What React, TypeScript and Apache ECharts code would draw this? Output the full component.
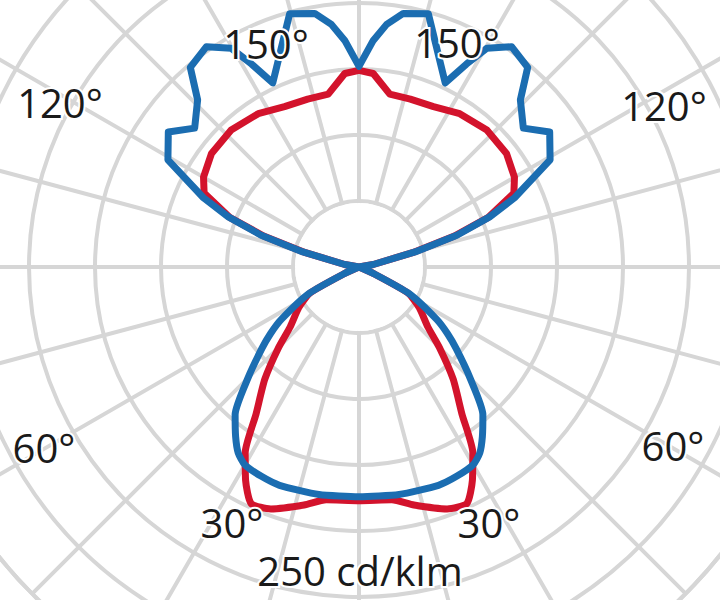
import React, { useEffect, useRef } from 'react'
import * as echarts from 'echarts'

// gamma angle from nadir (deg) and luminous intensity (cd/klm), one half of each curve
const blueLowerAngles = [0, 10, 20, 25, 30, 33, 36, 40, 45, 50, 53, 56, 62, 66, 70, 80, 90]
const blueLowerValues = [174, 175, 176, 175, 173, 168, 159, 146, 119, 96, 84, 71, 43, 11, 0, 0, 0]

const redLowerAngles = [0, 8, 13, 20, 24.5, 28, 31.5, 35, 40, 45, 49, 56, 62, 66, 70, 80, 90]
const redLowerValues = [177, 178, 185, 195, 197, 183, 165, 136, 111, 86, 69, 55, 42, 11, 0, 0, 0]

const blueUpperAngles = [90, 98, 100, 105, 108, 111, 114, 119.3, 125.3, 130.2, 136, 139.8, 145.3, 149.7, 152.1, 154.9, 164.7, 170.1, 173.5, 176.4, 180]
const blueUpperValues = [0, 0, 11, 44, 78, 106, 129, 166, 177, 163, 176, 198, 203, 192, 174, 154, 199, 195, 185, 172, 152]

const redUpperAngles = [90, 98, 100, 105, 108, 111, 115.5, 120, 127.6, 137, 146.7, 155.1, 163, 169.9, 175.8, 180]
const redUpperValues = [0, 0, 11, 42, 76, 105, 130, 136, 141, 142, 139, 134, 133, 133, 147, 149]

const ringStep = 50
const ringMax = 350
const spokeStep = 15

const labels = [
  { text: '150°', x: 266, y: 43 },
  { text: '150°', x: 457, y: 42 },
  { text: '120°', x: 60, y: 102 },
  { text: '120°', x: 664, y: 105 },
  { text: '60°', x: 44, y: 447 },
  { text: '60°', x: 673, y: 445 },
  { text: '30°', x: 232, y: 522 },
  { text: '30°', x: 489, y: 522 },
  { text: '250 cd/klm', x: 360, y: 570 },
]

const BLUE = '#1b6db1'
const RED = '#d3132c'
const GRID = '#d6d6d6'
const CX = 359
const CY = 267

function lowerLoop(angles: number[], vals: number[]) {
  const left = angles.map((g, i) => [vals[i], 360 - g]).reverse()
  const right = angles.map((g, i) => [vals[i], g])
  return [...left, ...right]
}

function upperLoop(angles: number[], vals: number[]) {
  const right = angles.map((g, i) => [vals[i], g])
  const left = angles.map((g, i) => [vals[i], 360 - g]).reverse()
  return [...right, ...left]
}

export default function App() {
  const ref = useRef<HTMLDivElement | null>(null)

  useEffect(() => {
    if (!ref.current) return
    const chart = echarts.init(ref.current, undefined, { renderer: 'svg' })

    const lineSeries = (name: string, data: number[][], color: string, z: number, smooth: number | boolean) => ({
      name,
      type: 'line' as const,
      coordinateSystem: 'polar' as const,
      data,
      showSymbol: false,
      smooth,
      z,
      clip: false,
      lineStyle: { color, width: 7, join: 'round' as const },
    })

    const opt: echarts.EChartsOption = {
      animation: false,
      backgroundColor: '#ffffff',
      polar: { center: [CX, CY], radius: ringMax / ringStep * 66 },
      angleAxis: {
        type: 'value',
        min: 0,
        max: 360,
        interval: spokeStep,
        startAngle: -90,
        clockwise: false,
        z: 0,
        axisLine: { show: true, lineStyle: { color: GRID, width: 4 } },
        axisTick: { show: false },
        axisLabel: { show: false },
        splitLine: { show: true, lineStyle: { color: GRID, width: 4 } },
      },
      radiusAxis: {
        type: 'value',
        min: 0,
        max: ringMax,
        interval: ringStep,
        z: 0,
        axisLine: { show: false },
        axisTick: { show: false },
        axisLabel: { show: false },
        splitLine: { show: true, lineStyle: { color: GRID, width: 4 } },
      },
      graphic: [
        {
          type: 'circle',
          z: 1,
          silent: true,
          shape: { cx: CX, cy: CY, r: 64 },
          style: { fill: '#ffffff' },
        },
        ...labels.map(l => ({
          type: 'text' as const,
          z: 10,
          silent: true,
          x: l.x,
          y: l.y,
          style: {
            text: l.text,
            fill: '#1a1a1a',
            font: '40px "Open Sans", "Noto Sans", sans-serif',
            align: 'center' as const,
            verticalAlign: 'middle' as const,
            stroke: '#ffffff',
            lineWidth: 4,
          },
        })),
      ],
      series: [
        lineSeries('C0 lower', lowerLoop(redLowerAngles, redLowerValues), RED, 3, 0.2),
        lineSeries('C0 upper', upperLoop(redUpperAngles, redUpperValues), RED, 3, false),
        lineSeries('C90 lower', lowerLoop(blueLowerAngles, blueLowerValues), BLUE, 4, 0.2),
        lineSeries('C90 upper', upperLoop(blueUpperAngles, blueUpperValues), BLUE, 4, false),
      ],
    }

    chart.setOption(opt)
    return () => { chart.dispose() }
  }, [])

  return (
    <div
      ref={ref}
      style={{ position: 'fixed', left: 0, top: 0, width: 720, height: 600, background: '#fff' }}
    />
  )
}
